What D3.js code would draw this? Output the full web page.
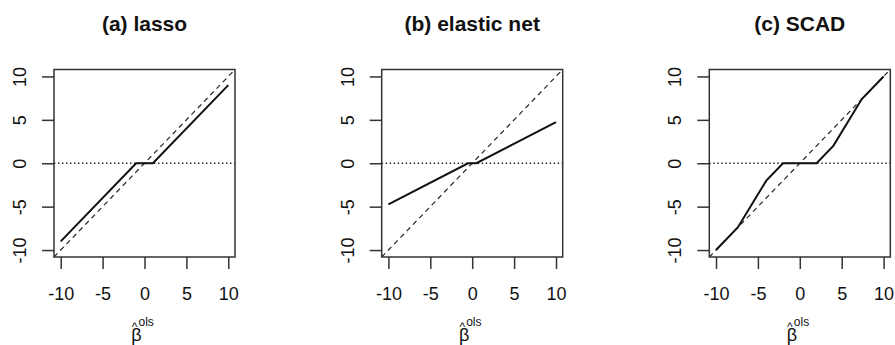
<!DOCTYPE html>
<html>
<head>
<meta charset="utf-8">
<script src="https://cdn.jsdelivr.net/npm/d3@7"></script>
<style>
  body { margin: 0; background: #fff; }
  svg { display: block; font-family: "Liberation Sans", Arial, sans-serif; }
</style>
</head>
<body>
<svg id="chart" width="895" height="345"></svg>
<script>
// panel titles
var titles = ["(a) lasso", "(b) elastic net", "(c) SCAD"];

// thresholding curves (beta_ols -> estimate)
var lassoX = [-10, -1, 1, 10];
var lassoY = [-9, 0, 0, 9];

var enetX = [-10, -0.5, 0.5, 10];
var enetY = [-4.75, 0, 0, 4.75];

var scadX = [-10, -7.4, -4, -2, 2, 4, 7.4, 10];
var scadY = [-10, -7.4, -2, 0, 0, 2, 7.4, 10];

var tickVals = [-10, -5, 0, 5, 10];
var tickLabels = ["-10", "-5", "0", "5", "10"];

var panels = [
  {title: titles[0], xs: lassoX, ys: lassoY, left: 54},
  {title: titles[1], xs: enetX, ys: enetY, left: 381.7},
  {title: titles[2], xs: scadX, ys: scadY, left: 709.3}
];

// note: "top" clashes with window.top, so plotTop
var plotTop = 69.5, w = 181, h = 187.5;
var ink = "#222";

var svg = d3.select("#chart");

panels.forEach(function(p) {
  var x = d3.scaleLinear().domain([-10.8, 10.8]).range([0, w]);
  var y = d3.scaleLinear().domain([-10.8, 10.8]).range([h, 0]);

  var g = svg.append("g").attr("transform", "translate(" + p.left + "," + plotTop + ")");

  // title
  g.append("text")
    .attr("x", x(0)).attr("y", 31 - plotTop)
    .attr("text-anchor", "middle")
    .style("font-size", "21px").style("font-weight", "bold")
    .attr("fill", "#111")
    .text(p.title);

  // reference lines: y = 0 dotted, y = x dashed
  g.append("line")
    .attr("x1", 0).attr("x2", w)
    .attr("y1", y(0)).attr("y2", y(0))
    .attr("stroke", ink).attr("stroke-width", 1.4)
    .attr("stroke-dasharray", "1.4,2.6");

  g.append("line")
    .attr("x1", x(-10.8)).attr("y1", y(-10.8))
    .attr("x2", x(10.8)).attr("y2", y(10.8))
    .attr("stroke", ink).attr("stroke-width", 1.2)
    .attr("stroke-dasharray", "5,4");

  // solid estimator curve
  var pts = p.xs.map(function(v, i) { return [v, p.ys[i]]; });
  var line = d3.line().x(function(d) { return x(d[0]); }).y(function(d) { return y(d[1]); });
  g.append("path")
    .attr("d", line(pts))
    .attr("fill", "none").attr("stroke", "#111").attr("stroke-width", 2);

  // box
  g.append("rect")
    .attr("x", 0).attr("y", 0).attr("width", w).attr("height", h)
    .attr("fill", "none").attr("stroke", "#333").attr("stroke-width", 1.5);

  // x axis
  var xa = g.append("g").attr("transform", "translate(0," + h + ")")
    .call(d3.axisBottom(x).tickValues(tickVals)
      .tickFormat(function(d, i) { return tickLabels[i]; })
      .tickSize(12).tickPadding(0));
  xa.select(".domain").remove();
  xa.selectAll(".tick line").attr("stroke", "#333").attr("stroke-width", 1.5);
  xa.selectAll(".tick text")
    .attr("y", 300 - plotTop - h).attr("dy", 0)
    .attr("fill", "#111").style("font-size", "18px");

  // y axis, labels rotated like base R
  var ya = g.append("g")
    .call(d3.axisLeft(y).tickValues(tickVals)
      .tickFormat(function(d, i) { return tickLabels[i]; })
      .tickSize(12).tickPadding(0));
  ya.select(".domain").remove();
  ya.selectAll(".tick line").attr("stroke", "#333").attr("stroke-width", 1.5);
  ya.selectAll(".tick text")
    .attr("x", 0).attr("dy", 0)
    .attr("text-anchor", "middle")
    .attr("transform", "translate(" + (26 - 54) + ",0) rotate(-90)")
    .attr("fill", "#111").style("font-size", "18px");

  // x label: beta hat with superscript ols
  var lab = g.append("g").attr("transform", "translate(" + x(0) + ",0)");
  lab.append("text")
    .attr("x", -8).attr("y", 341 - plotTop)
    .attr("text-anchor", "middle")
    .attr("fill", "#111").style("font-size", "18px")
    .text("\u03B2");
  lab.append("text")
    .attr("x", -10).attr("y", 330.5 - plotTop)
    .attr("text-anchor", "middle")
    .attr("fill", "#111").style("font-size", "12px")
    .text("^");
  lab.append("text")
    .attr("x", -6).attr("y", 326 - plotTop)
    .attr("fill", "#111").style("font-size", "12px")
    .text("ols");
});
</script>
</body>
</html>
